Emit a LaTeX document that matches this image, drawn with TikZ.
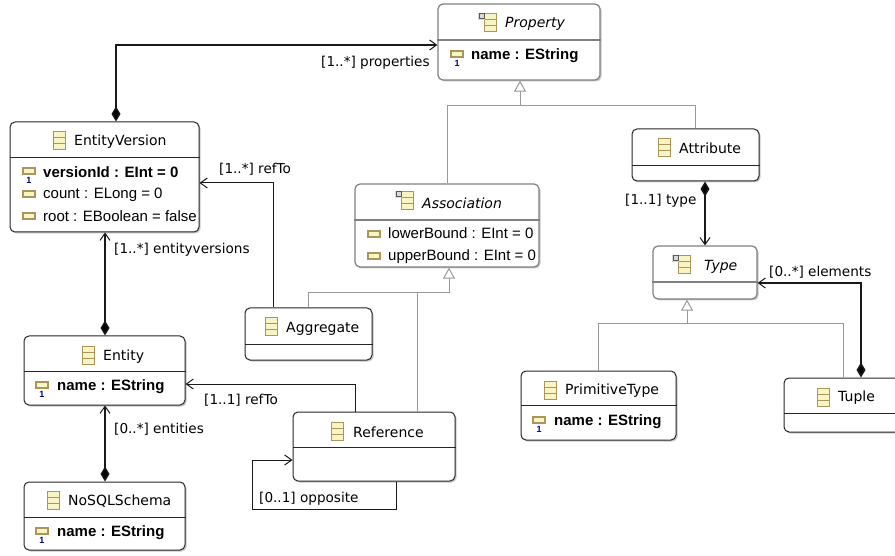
\documentclass[tikz,border=0pt]{standalone}
\usepackage{fontspec}
\setmainfont{DejaVu Sans}
\newfontfamily\attrfont{Liberation Sans}
\usetikzlibrary{arrows.meta,shadows}
\definecolor{icontan}{RGB}{170,150,90}
\definecolor{iconfill}{RGB}{248,244,196}
\tikzset{
  classbox/.style={draw=black!85,line width=1pt,rounded corners=5pt,fill=white,inner sep=0pt,
    drop shadow={shadow xshift=1.5pt,shadow yshift=-1.5pt,fill=black!22,opacity=1}},
  absbox/.style={classbox,draw=black!50,line width=1.2pt},
  classtitle/.style={anchor=west,inner sep=0pt,font=\fontsize{14}{16}\selectfont},
  abstitle/.style={classtitle,font=\fontsize{14}{16}\selectfont\itshape},
  attrtext/.style={anchor=west,inner sep=0pt,font=\attrfont\fontsize{15}{17}\selectfont},
  idtext/.style={attrtext,font=\attrfont\bfseries\fontsize{15}{17}\selectfont},
  linklabel/.style={anchor=west,inner sep=0pt,font=\fontsize{13.6}{16}\selectfont},
  rel/.style={draw=black!90,line width=1pt},
  comp/.style={rel,line width=1.4pt,{Diamond[fill=black,length=15pt,width=9pt]}-{Straight Barb[length=7pt,width=10pt,line width=1pt]}},
  ref/.style={rel,-{Straight Barb[length=7pt,width=10pt,line width=1pt]}},
  super/.style={draw=black!40,line width=1pt},
  supertip/.style={super,-{Triangle[open,fill=white,length=11pt,width=12pt]}},
}
% icons, top left corner given
\newcommand{\classicon}[2]{
\fill [iconfill] (#1,#2) rectangle ++(12,18);
\draw [icontan,line width=1pt] (#1,#2) rectangle ++(12,18);
\draw [icontan,line width=1pt] (#1,#2+6) -- ++(12,0) (#1,#2+12) -- ++(12,0);
}
\newcommand{\absicon}[2]{
\classicon{#1+6}{#2}
\fill [black!15] (#1,#2-1) rectangle ++(7,7);
\draw [black!65,line width=1pt] (#1+1,#2) rectangle ++(5,5);
}
\newcommand{\attricon}[2]{
\fill [iconfill] (#1,#2-3) rectangle ++(12,6);
\draw [icontan,line width=1.2pt] (#1,#2-3) rectangle ++(12,6);
}
\newcommand{\idicon}[3]{
\attricon{#2}{#3-3}
\node [inner sep=0pt,text=blue!60!black,font=\attrfont\bfseries\fontsize{9}{9}\selectfont] (#1) at (#2+6,#3+6) {1};
}
\begin{document}
\begin{tikzpicture}[x=1pt,y=-1pt]
\clip (0,0) rectangle (895,556);
% classes
\node [absbox,minimum width=162pt,minimum height=76pt] (property) at (519,42) {};
\node [classbox,minimum width=189pt,minimum height=110pt] (entityversion) at (104.5,177) {};
\node [absbox,minimum width=184pt,minimum height=83pt] (association) at (447,225.5) {};
\node [classbox,minimum width=127pt,minimum height=52pt] (attribute) at (695.5,155) {};
\node [absbox,minimum width=104pt,minimum height=53pt] (type) at (705,272.5) {};
\node [classbox,minimum width=127pt,minimum height=52pt] (aggregate) at (308.5,334) {};
\node [classbox,minimum width=161pt,minimum height=69pt] (entity) at (104.5,370.5) {};
\node [classbox,minimum width=155pt,minimum height=69pt] (primitivetype) at (598.5,405.5) {};
\node [classbox,minimum width=162pt,minimum height=69pt] (reference) at (374,446.5) {};
\node [classbox,minimum width=140pt,minimum height=54pt] (tuple) at (854,405) {};
\node [classbox,minimum width=161pt,minimum height=68pt] (nosqlschema) at (104.5,516) {};
% compartments
\draw [black!50,line width=1.2pt] (property.west |- 0,40)--(property.east |- 0,40);
\draw [black!85] (entityversion.west |- 0,157)--(entityversion.east |- 0,157);
\draw [black!50,line width=1.2pt] (association.west |- 0,220)--(association.east |- 0,220);
\draw [black!85] (attribute.west |- 0,165)--(attribute.east |- 0,165);
\draw [black!50,line width=1.2pt] (type.west |- 0,282)--(type.east |- 0,282);
\draw [black!85] (aggregate.west |- 0,344)--(aggregate.east |- 0,344);
\draw [black!85] (entity.west |- 0,371)--(entity.east |- 0,371);
\draw [black!85] (primitivetype.west |- 0,405)--(primitivetype.east |- 0,405);
\draw [black!85] (reference.west |- 0,447)--(reference.east |- 0,447);
\draw [black!85] (tuple.west |- 0,413)--(tuple.east |- 0,413);
\draw [black!85] (nosqlschema.west |- 0,517)--(nosqlschema.east |- 0,517);
% titles
\absicon{478}{14}
\node [abstitle] (propertytitle) at (505,24) {Property};
\classicon{53}{132}
\node [classtitle] (evtitle) at (74,141.5) {EntityVersion};
\absicon{395}{192}
\node [abstitle] (assoctitle) at (422,203.5) {Association};
\classicon{658}{139}
\node [classtitle] (attrtitle) at (679,148.5) {Attribute};
\absicon{672}{256}
\node [abstitle] (typetitle) at (704,266.5) {Type};
\classicon{265}{318}
\node [classtitle] (aggtitle) at (286,328.5) {Aggregate};
\classicon{82}{346}
\node [classtitle] (entitytitle) at (103,356.5) {Entity};
\classicon{544}{381}
\node [classtitle] (primtitle) at (565,390.5) {PrimitiveType};
\classicon{331}{422}
\node [classtitle] (reftitle) at (353,432) {Reference};
\classicon{817}{388}
\node [classtitle] (tupletitle) at (838,397.5) {Tuple};
\classicon{47}{491}
\node [classtitle] (nosqltitle) at (68,501.5) {NoSQLSchema};
% attributes
\idicon{propid}{451}{57}
\node [idtext] (propname) at (471,55.5) {name : EString};
\idicon{verid}{23}{174}
\node [idtext] (evid) at (43,172.5) {versionId : EInt = 0};
\attricon{23}{194}
\node [attrtext] (evcount) at (43,194.5) {count : ELong = 0};
\attricon{23}{216}
\node [attrtext] (evroot) at (43,216.5) {root : EBoolean = false};
\attricon{368}{234}
\node [attrtext] (assoclower) at (388,233.5) {lowerBound : EInt = 0};
\attricon{368}{256}
\node [attrtext] (assocupper) at (388,256.5) {upperBound : EInt = 0};
\idicon{entid}{36}{388}
\node [idtext] (entname) at (57,386.5) {name : EString};
\idicon{primid}{533}{423}
\node [idtext] (primname) at (554,421.5) {name : EString};
\idicon{nosqlid}{36}{534}
\node [idtext] (nosqlname) at (57,532.5) {name : EString};
% inheritance
\draw [supertip] (association.north) |- (520,106) -- (property.south -| 520,0);
\draw [super] (attribute.north) |- (520,106);
\draw [supertip] (aggregate.north) |- (449,293) -- (association.south -| 449,0);
\draw [super] (reference.north -| 417,0) -- (417,293);
\draw [supertip] (primitivetype.north) |- (687,324) -- (type.south -| 687,0);
\draw [super] (tuple.north -| 843,0) |- (687,324);
% references
\draw [comp] (entityversion.north -| 116,0) |- (property.west |- 0,45);
\draw [ref] (aggregate.north -| 273,0) |- (entityversion.east |- 0,183);
\draw [comp] (entity.north -| 105,0) -- (entityversion.south -| 105,0);
\draw [comp] (nosqlschema.north -| 105,0) -- (entity.south -| 105,0);
\draw [ref] (reference.north -| 355,0) |- (entity.east |- 0,384);
\draw [ref] (reference.south -| 396,0) |- (252,509) |- (reference.west |- 0,460);
\draw [comp] (attribute.south -| 705,0) -- (type.north -| 705,0);
\draw [comp,line width=1.7pt] (tuple.north -| 861,0) |- (type.east |- 0,283);
% labels
\node [linklabel] (lblprops) at (321,62.5) {[1..*] properties};
\node [linklabel] (lblrefto) at (219,169.5) {[1..*] refTo};
\node [linklabel] (lblversions) at (114,249.5) {[1..*] entityversions};
\node [linklabel] (lblentities) at (114,429.5) {[0..*] entities};
\node [linklabel] (lblentref) at (204,400.5) {[1..1] refTo};
\node [linklabel] (lblopp) at (259,498.5) {[0..1] opposite};
\node [linklabel] (lbltype) at (625,200.5) {[1..1] type};
\node [linklabel] (lblelements) at (769,272.5) {[0..*] elements};
\end{tikzpicture}
\end{document}
